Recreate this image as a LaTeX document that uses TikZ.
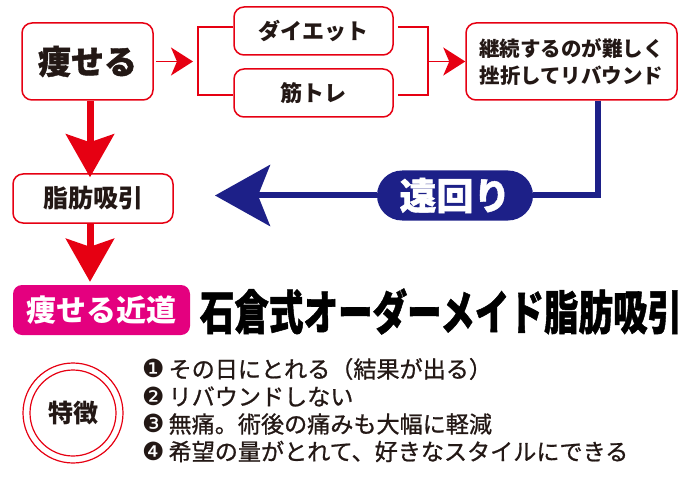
\documentclass[tikz,border=0pt]{standalone}
\usepackage{fontspec}
\setmainfont{Noto Sans CJK JP}
\newfontfamily\jp{Noto Sans CJK JP}
\newfontfamily\jpheavy{Noto Sans CJK JP}[BoldFeatures={FakeBold=1.2}]
\newfontfamily\jpmed{Noto Sans CJK JP}[FakeBold=0.9]
\newfontfamily\ding{DejaVu Sans}
\usetikzlibrary{arrows.meta}
\definecolor{myred}{HTML}{E60012}
\definecolor{mynavy}{HTML}{1D2088}
\definecolor{mymag}{HTML}{E4007F}
\definecolor{myblack}{HTML}{231815}
\newcommand{\fs}[1]{\fontsize{#1}{#1}\selectfont}
\tikzset{
  redbox/.style={draw=myred, line width=1.5pt, rounded corners=10pt, fill=white, text=myblack, inner sep=0pt, font=\jp\bfseries},
  thinred/.style={draw=myred, line width=1.6pt},
  smalltip/.style={-{Stealth[length=22pt,width=28pt,inset=6pt,fill=myred]}},
  thickred/.style={draw=myred, line width=7pt, -{Stealth[length=43pt,width=48pt,inset=8pt,fill=myred]}},
  navyline/.style={draw=mynavy, line width=6pt},
  listitem/.style={anchor=west, inner sep=0pt, text=myblack, font=\jpmed\fs{23.1}}
}
\newcommand{\num}[1]{{\ding\fs{25}#1}\hspace{4pt}}
\begin{document}
\begin{tikzpicture}[x=1pt,y=-1pt]
\useasboundingbox (0,0) rectangle (700,478);
% top row boxes
\node[redbox, minimum width=131pt, minimum height=77pt, font=\jpheavy\bfseries\fs{33}] (yaseru) at (87.5,61.5) {痩せる};
\node[redbox, minimum width=159pt, minimum height=48pt, font=\jp\bfseries\fs{22}] (diet) at (313.5,31) {ダイエット};
\node[redbox, minimum width=159pt, minimum height=48pt, font=\jp\bfseries\fs{22}] (kintore) at (313.5,93) {筋トレ};
\node[redbox, minimum width=211pt, minimum height=77pt, font=\jp\bfseries\fs{20.5}, align=center] (keizoku) at (571.5,61.5) {継続するのが難しく\\[6.5pt]挫折してリバウンド};
% left bracket
\coordinate (lbt) at (198,27);
\coordinate (lbb) at (198,95);
\coordinate (lbm) at (193,61.5);
\draw[thinred, smalltip] ([xshift=2pt]yaseru.east) -- (lbm);
\draw[thinred] (diet.west |- lbt) -- (lbt) -- (lbb) -- (kintore.west |- lbb);
% right bracket
\coordinate (rbt) at (428,27);
\coordinate (rbb) at (428,95);
\coordinate (rbm) at (428,61.5);
\draw[thinred] ([xshift=4pt]diet.east |- rbt) -- (rbt) -- (rbb) -- ([xshift=4pt]kintore.east |- rbb);
\draw[thinred, smalltip] (rbm) -- (keizoku.west);
% shibou box
\node[redbox, minimum width=160pt, minimum height=49pt, font=\jp\bfseries\fs{25}] (shibou) at (93,198.5) {脂肪吸引};
% pill
\node[fill=mynavy, rounded corners=25pt, minimum width=156pt, minimum height=50pt, inner sep=0pt, text=white, font=\jpheavy\bfseries\fs{37}] (pill) at (455,195.5) {遠回り};
\coordinate (bcorner) at (598,195.5);
\coordinate (btip) at (215,195.5);
\draw[navyline] ([xshift=26.5pt]keizoku.south) -- (bcorner) -- (pill.east);
\draw[navyline, -{Stealth[length=55pt,width=61pt,inset=12pt,fill=mynavy]}] (pill.west) -- (btip);
% magenta box and red vertical arrows
\node[fill=mymag, rounded corners=9pt, minimum width=177pt, minimum height=50pt, inner sep=0pt, text=white, font=\jp\bfseries\fs{30}] (chikamichi) at (101.5,310) {痩せる近道};
\draw[thickred] ([xshift=2.5pt]yaseru.south) -- ([xshift=-3pt,yshift=-4pt]shibou.north);
\draw[thickred] ([xshift=-3pt]shibou.south) -- ([xshift=-11.5pt,yshift=3pt]chikamichi.north);
% title
\node[inner sep=0pt, text=black, font=\jpheavy\bfseries\fs{47}, xscale=0.735] (title) at (441,311.5) {石倉式オーダーメイド脂肪吸引};
% circle
\node[circle, draw=myred, line width=1.2pt, minimum size=100pt] (outer) at (73,413) {};
\node[circle, draw=myred, line width=1.2pt, minimum size=86pt, inner sep=0pt, text=myblack, font=\jp\bfseries\fs{25}] (tokucho) at (73,413) {特徴};
% list
\node[listitem] (l1) at (142,369) {\num{❶}その日にとれる（結果が出る）};
\node[listitem] (l2) at (142,396.5) {\num{❷}リバウンドしない};
\node[listitem] (l3) at (142,424) {\num{❸}無痛。術後の痛みも大幅に軽減};
\node[listitem] (l4) at (142,451.5) {\num{❹}希望の量がとれて、好きなスタイルにできる};
\end{tikzpicture}
\end{document}
